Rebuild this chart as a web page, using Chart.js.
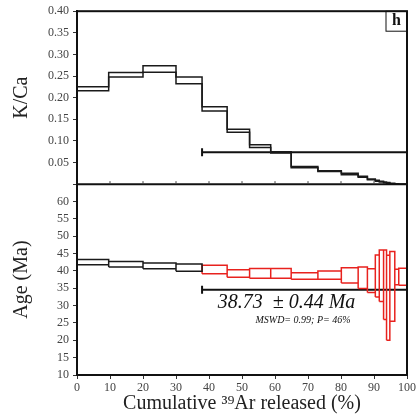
<!DOCTYPE html>
<html>
<head>
<meta charset="utf-8">
<script src="https://cdn.jsdelivr.net/npm/chart.js@4"></script>
<style>
  body { margin: 0; background: #fff; }
  canvas { display: block; }
</style>
</head>
<body>
<canvas id="specCanvas" width="418" height="418"></canvas>
<script>
// step boundaries, cumulative 39Ar released (%)
let steps = [0, 9.6, 20, 30, 37.9, 45.5, 52.3, 58.7, 64.9, 73.0, 80.1, 85.2, 88.0, 90.4, 91.6, 92.9, 93.8, 94.8, 96.3, 97.5, 100];

// K/Ca per step (lower / upper edge)
let kcaLow  = [0.216, 0.248, 0.259, 0.232, 0.169, 0.120, 0.085, 0.072, 0.038, 0.029, 0.022, 0.016, 0.010, 0.007, 0.005, 0.003, 0.002, 0.001, 0.000, 0.000];
let kcaHigh = [0.225, 0.258, 0.274, 0.248, 0.179, 0.127, 0.091, 0.075, 0.041, 0.031, 0.025, 0.018, 0.012, 0.009, 0.007, 0.005, 0.004, 0.002, 0.001, 0.000];

// apparent age per step (Ma), lower / upper edge of the error box
let ageLow  = [41.8, 41.1, 40.6, 39.9, 39.2, 38.2, 37.9, 37.9, 37.6, 37.6, 36.5, 34.9, 33.8, 32.5, 31.2, 26.0, 20.0, 25.5, 36.0, 35.9];
let ageHigh = [43.3, 42.7, 42.3, 42.0, 41.6, 40.3, 40.7, 40.7, 39.5, 40.0, 40.9, 41.1, 40.6, 44.6, 46.0, 46.0, 44.5, 45.6, 40.5, 40.8];

// first step used in the plateau (red)
let plateauStart = 4;
let plateauLineAge = 34.6;
let plateauLineKCa = 0.074;

let kcaTicks = [0.05, 0.10, 0.15, 0.20, 0.25, 0.30, 0.35, 0.40];
let ageTicks = [10, 15, 20, 25, 30, 35, 40, 45, 50, 55, 60];

// stepped line points: start of each step, plus the end of the last one
function stepPoints(vals) {
  let pts = [];
  for (let i = 0; i < vals.length; i++) pts.push({x: steps[i], y: vals[i]});
  pts.push({x: steps[steps.length - 1], y: vals[vals.length - 1]});
  return pts;
}

// closed boxes for each step, separated by gaps
function boxPoints(from, to) {
  let pts = [];
  for (let i = from; i < to; i++) {
    let x0 = steps[i], x1 = steps[i + 1];
    pts.push({x: x0, y: ageLow[i]}, {x: x0, y: ageHigh[i]}, {x: x1, y: ageHigh[i]},
             {x: x1, y: ageLow[i]}, {x: x0, y: ageLow[i]}, {x: x1, y: null});
  }
  return pts;
}

const serif = "'Liberation Serif', 'DejaVu Serif', serif";

// frame, panel divider, label box and the plateau text
const framePlugin = {
  id: 'frame',
  afterDatasetsDraw(chart) {
    const {ctx, chartArea: a, scales} = chart;
    ctx.save();
    ctx.strokeStyle = '#111';
    ctx.lineWidth = 2;
    ctx.strokeRect(a.left, a.top, a.right - a.left, a.bottom - a.top);
    let ySplit = scales.yK.getPixelForValue(0);
    ctx.beginPath();
    ctx.moveTo(a.left, ySplit);
    ctx.lineTo(a.right, ySplit);
    ctx.stroke();

    // small inward ticks along the bottom of the upper panel
    ctx.lineWidth = 1;
    ctx.strokeStyle = '#444';
    for (let v = 10; v < 100; v += 10) {
      let px = scales.x.getPixelForValue(v);
      ctx.beginPath();
      ctx.moveTo(px, ySplit);
      ctx.lineTo(px, ySplit - 3);
      ctx.stroke();
    }

    // "h" box
    ctx.strokeStyle = '#111';
    ctx.strokeRect(a.right - 21, a.top, 21, 20);
    ctx.fillStyle = '#111';
    ctx.font = "bold 16px " + serif;
    ctx.textAlign = 'center';
    ctx.textBaseline = 'middle';
    ctx.fillText('h', a.right - 10.5, a.top + 10);

    // plateau age text
    let xs = scales.x, ya = scales.yAge;
    ctx.font = "italic 20px " + serif;
    ctx.textBaseline = 'alphabetic';
    ctx.fillText('38.73  \u00b1 0.44 Ma', xs.getPixelForValue(63.5), ya.getPixelForValue(29.4));
    ctx.font = "italic 10px " + serif;
    ctx.fillText('MSWD= 0.99; P= 46%', xs.getPixelForValue(68.5), ya.getPixelForValue(24.9));
    ctx.restore();
  }
};

let ctx = document.getElementById('specCanvas').getContext('2d');

let myChart = new Chart(ctx, {
  type: 'line',
  data: {
    datasets: [
      {
        label: 'K/Ca upper',
        yAxisID: 'yK',
        data: stepPoints(kcaHigh),
        stepped: 'before',
        borderColor: '#1a1a1a',
        borderWidth: 1.5,
        pointRadius: 0
      },
      {
        label: 'K/Ca lower',
        yAxisID: 'yK',
        data: stepPoints(kcaLow),
        stepped: 'before',
        borderColor: '#1a1a1a',
        borderWidth: 1.5,
        pointRadius: 0
      },
      {
        label: 'K/Ca plateau',
        yAxisID: 'yK',
        data: [{x: steps[plateauStart], y: plateauLineKCa}, {x: 100, y: plateauLineKCa}],
        borderColor: '#111',
        borderWidth: 2,
        pointStyle: 'line',
        rotation: 90,
        pointRadius: [4, 0],
        pointBorderColor: '#111',
        pointBorderWidth: 2
      },
      {
        label: 'Age (excluded)',
        yAxisID: 'yAge',
        data: boxPoints(0, plateauStart),
        spanGaps: false,
        borderColor: '#1a1a1a',
        borderWidth: 1.5,
        pointRadius: 0
      },
      {
        label: 'Age (plateau)',
        yAxisID: 'yAge',
        data: boxPoints(plateauStart, ageLow.length),
        spanGaps: false,
        borderColor: '#e8221e',
        borderWidth: 1.5,
        pointRadius: 0
      },
      {
        label: 'Age plateau',
        yAxisID: 'yAge',
        data: [{x: steps[plateauStart], y: plateauLineAge}, {x: 100, y: plateauLineAge}],
        borderColor: '#111',
        borderWidth: 2,
        pointStyle: 'line',
        rotation: 90,
        pointRadius: [4, 0],
        pointBorderColor: '#111',
        pointBorderWidth: 2
      }
    ]
  },
  options: {
    responsive: false,
    animation: false,
    devicePixelRatio: 1,
    layout: { padding: { top: 9, right: 6, left: 0, bottom: 0 } },
    plugins: {
      legend: { display: false },
      tooltip: { enabled: false }
    },
    scales: {
      x: {
        type: 'linear',
        min: 0,
        max: 100,
        afterFit(s) { s.height = 43; },
        border: { color: '#111', width: 2 },
        grid: { drawOnChartArea: false, tickLength: 4, color: '#333' },
        ticks: { stepSize: 10, autoSkip: false, color: '#444', font: { family: serif, size: 12 }, padding: 2 },
        title: {
          display: true,
          text: 'Cumulative \u00b3\u2079Ar released (%)',
          color: '#222',
          font: { family: serif, size: 20, lineHeight: 1.2 },
          padding: { top: 0, bottom: 2 }
        }
      },
      // bottom panel axis first: stacked left axes are placed bottom-up
      yAge: {
        type: 'linear',
        position: 'left',
        stack: 'panels',
        stackWeight: 192,
        min: 10,
        max: 65,
        afterFit(s) { s.width = 77; },
        afterBuildTicks(s) { s.ticks = ageTicks.map(v => ({value: v})); },
        border: { color: '#111', width: 2 },
        grid: { drawOnChartArea: false, tickLength: 4, color: '#333' },
        ticks: {
          autoSkip: false,
          color: '#444',
          font: { family: serif, size: 12 },
          padding: 4
        },
        title: {
          display: true,
          text: 'Age (Ma)',
          color: '#222',
          font: { family: serif, size: 20, lineHeight: 1.2 },
          padding: { top: 10, bottom: 0 }
        }
      },
      yK: {
        type: 'linear',
        position: 'left',
        stack: 'panels',
        stackWeight: 174,
        min: 0,
        max: 0.40,
        afterFit(s) { s.width = 77; },
        afterBuildTicks(s) { s.ticks = [0].concat(kcaTicks).map(v => ({value: v})); },
        border: { color: '#111', width: 2 },
        grid: { drawOnChartArea: false, tickLength: 4, color: '#333' },
        ticks: {
          autoSkip: false,
          color: '#444',
          font: { family: serif, size: 12 },
          padding: 4,
          callback: v => v === 0 ? '' : v.toFixed(2)
        },
        title: {
          display: true,
          text: 'K/Ca',
          color: '#222',
          font: { family: serif, size: 20, lineHeight: 1.2 },
          padding: { top: 10, bottom: 0 }
        }
      }
    }
  },
  plugins: [framePlugin]
});
</script>
</body>
</html>
